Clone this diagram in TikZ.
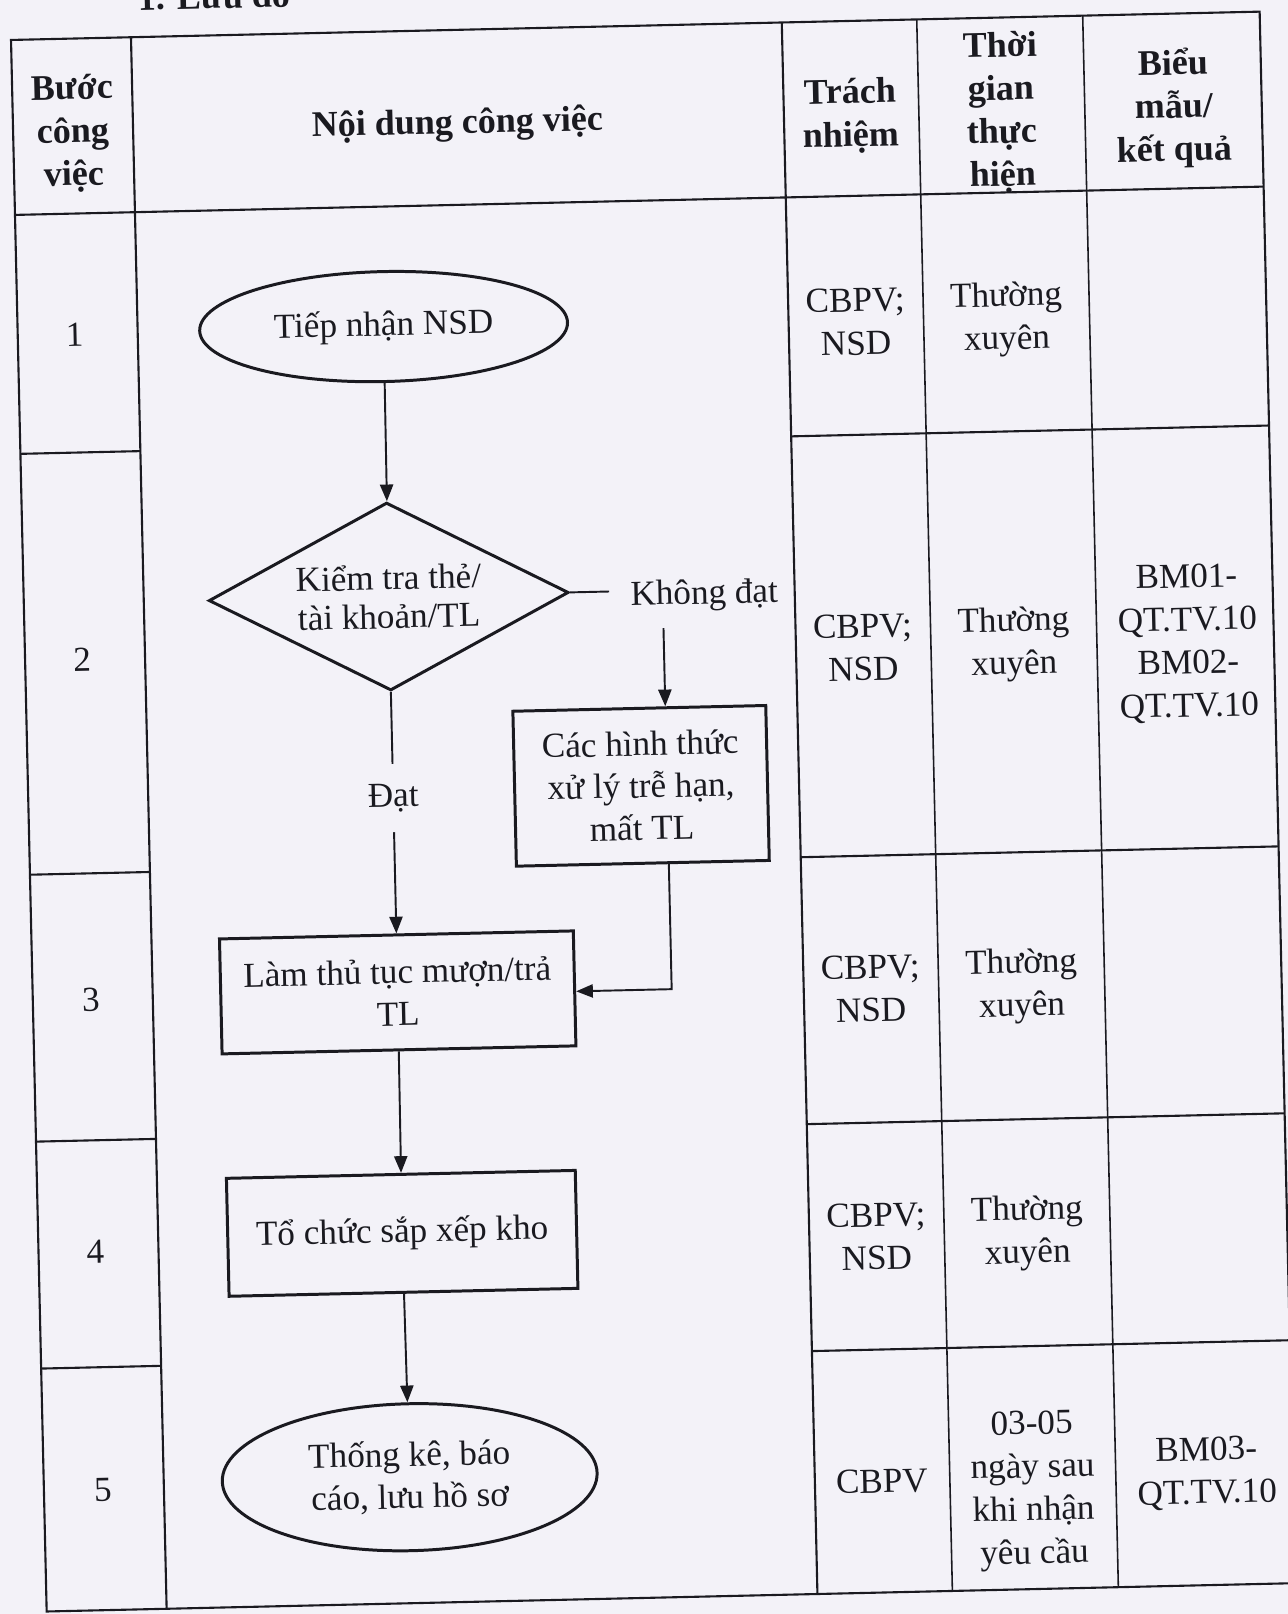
\documentclass[tikz,border=0pt]{standalone}
\usepackage{fontspec}
\setmainfont{Liberation Serif}
\usetikzlibrary{
  arrows.meta,
  shapes.geometric,
  positioning
}
\definecolor{ScanPaper}{RGB}{243,242,248}
\definecolor{ScanInk}  {RGB}{26,26,32}

\begin{document}
\begin{tikzpicture}[
  x=0.02cm, y=-0.02cm,
  tabline/.style ={draw=ScanInk, line width=1.2pt},
  thinline/.style={draw=ScanInk, line width=0.9pt},
  headtxt/.style ={align=center, text=ScanInk,
                   font=\fontsize{20.5}{24.5}\selectfont\bfseries},
  celltxt/.style ={align=center, text=ScanInk,
                   font=\fontsize{20}{24.5}\selectfont},
  termnode/.style={ellipse, draw=ScanInk, line width=1.7pt, inner sep=0pt,
                   align=center, text=ScanInk, font=\fontsize{20}{24}\selectfont},
  procbox/.style ={rectangle, draw=ScanInk, line width=1.7pt, inner sep=0pt,
                   align=center, text=ScanInk, font=\fontsize{20}{24}\selectfont},
  testnode/.style={diamond, aspect=1.9, draw=ScanInk, line width=1.7pt, inner sep=0pt,
                   align=center, text=ScanInk, font=\fontsize{20}{22}\selectfont},
  lbl/.style     ={text=ScanInk, inner sep=0pt, font=\fontsize{20}{24}\selectfont},
  arr/.style     ={-{Triangle[length=9.5pt,width=7.5pt]}, line width=1.1pt, ScanInk}
]
\path[use as bounding box, fill=ScanPaper] (0,0) rectangle (1288,1614);

% the scanned page sits a little askew
\begin{scope}[rotate around={1.3:(9,39)}, transform shape]

\node[headtxt, anchor=base west] (title) at (133,13) {1. Lưu đồ};

% table frame
\draw[tabline] (11,40) rectangle (1260,1612);
\draw[tabline] (131,40) -- (131,1612);
\draw[tabline] (782,40) -- (782,1612);
\draw[thinline] (917,40) -- (917,1612);
\draw[thinline] (1083,40) -- (1083,1612);
\draw[tabline] (11,215) -- (1260,215);
% row lines (none across the flowchart column)
\draw[tabline] (11,454) -- (131,454) (782,454) -- (1260,454);
\draw[tabline] (11,875) -- (131,875) (782,875) -- (1260,875);
\draw[tabline] (11,1142) -- (131,1142) (782,1142) -- (1260,1142);
\draw[tabline] (11,1369) -- (131,1369) (782,1369) -- (1260,1369);

% header
\node[headtxt] (hstep) at (71,135)   {Bước\\công\\việc};
\node[headtxt] (hjob)  at (456,135)  {Nội dung công việc};
\node[headtxt] (hresp) at (849,135)  {Trách\\nhiệm};
\node[headtxt] (htime) at (1000,135) {Thời\\gian\\thực\\hiện};
\node[headtxt] (hform) at (1172,135) {Biểu\\mẫu/\\kết quả};

% step numbers
\node[celltxt] (s1) at (68,336)  {1};
\node[celltxt] (s2) at (68,661)  {2};
\node[celltxt] (s3) at (69,1001) {3};
\node[celltxt] (s4) at (68,1253) {4};
\node[celltxt] (s5) at (70,1492) {5};

% responsibility, time, forms
\node[celltxt] (r1) at (849,341)   {CBPV;\\NSD};
\node[celltxt] (t1) at (1000,342)  {Thường\\xuyên};
\node[celltxt] (r2) at (849,667)   {CBPV;\\NSD};
\node[celltxt] (t2) at (1000,667)  {Thường\\xuyên};
\node[celltxt] (f2) at (1174,670)  {BM01-\\QT.TV.10\\BM02-\\QT.TV.10};
\node[celltxt] (r3) at (849,1008)  {CBPV;\\NSD};
\node[celltxt] (t3) at (1000,1009) {Thường\\xuyên};
\node[celltxt] (r4) at (849,1256)  {CBPV;\\NSD};
\node[celltxt] (t4) at (1000,1256) {Thường\\xuyên};
\node[celltxt] (r5) at (849,1501)  {CBPV};
\node[celltxt] (t5) at (1000,1514) {03-05\\ngày sau\\khi nhận\\yêu cầu};
\node[celltxt] (f5) at (1174,1500) {BM03-\\QT.TV.10};

% flowchart
\node[termnode, minimum width=7.36cm, minimum height=2.2cm] (tiep) at (377,335)
     {Tiếp nhận NSD};
\node[testnode, minimum width=7.2cm, minimum height=3.76cm] (kiem) at (376,605)
     {Kiểm tra thẻ/\\tài khoản/TL};
\node[lbl, inner xsep=0.42cm, inner ysep=0.31cm, right=0.78cm of kiem,
      yshift=-0.12cm] (nodat) {Không đạt};
\node[procbox, minimum width=5.06cm, minimum height=3.1cm] (late) at (624,800)
     {Các hình thức\\xử lý trễ hạn,\\mất TL};
\node[procbox, minimum width=7.08cm, minimum height=2.3cm] (muon) at (376,1001)
     {Làm thủ tục mượn/trả\\TL};
\node[procbox, minimum width=6.98cm, minimum height=2.36cm] (kho) at (375,1242)
     {Tổ chức sắp xếp kho};
\node[termnode, minimum width=7.5cm, minimum height=2.94cm] (thongke) at (377,1486)
     {Thống kê, báo\\cáo, lưu hồ sơ};
\coordinate (jog) at (650,1004);

\draw[arr] (tiep) -- (kiem);
\draw[arr] (kiem) -- node[lbl, fill=ScanPaper, pos=0.44, minimum height=1.36cm] (dat) {Đạt} (muon);
\draw[ScanInk, line width=1.1pt] (kiem.east) -- (kiem.east -| nodat.west);
\draw[arr] (nodat.south -| jog) -- (jog |- late.north);
\draw[arr] (late.south -| jog) -- (jog) -- (jog -| muon.east);
\draw[arr] (muon) -- (kho);
\draw[arr] (kho) -- (thongke);
\end{scope}
\end{tikzpicture}
\end{document}
